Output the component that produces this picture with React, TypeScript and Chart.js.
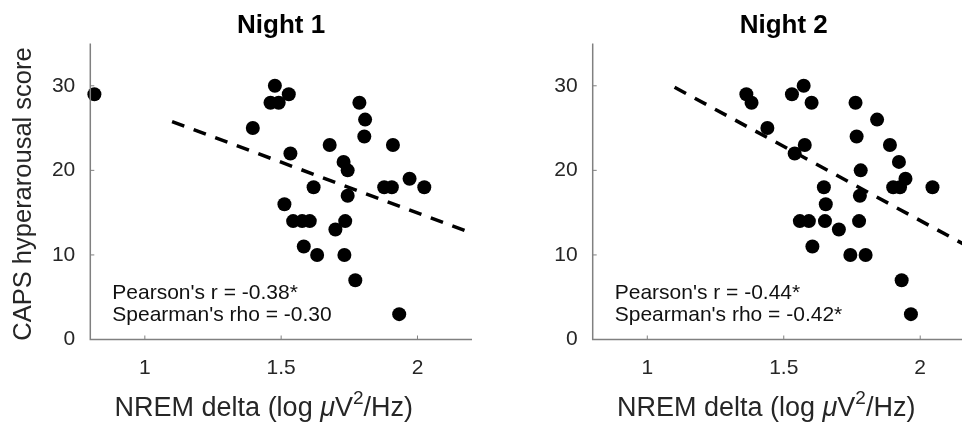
import React, { useEffect, useRef } from "react";
import { Chart, registerables } from "chart.js";

Chart.register(...registerables);

// ---------- data ----------
const panelTitles = ["Night 1", "Night 2"];
const yAxisTitle = "CAPS hyperarousal score";
const xAxisTitleParts = ["NREM delta (log ", "\u03bc", "V", "2", "/Hz)"];
const xTickValues = [1, 1.5, 2];
const yTickValues = [0, 10, 20, 30];

const night1X = [0.815, 1.477, 1.528, 1.461, 1.491, 1.396, 1.534, 1.678, 1.787, 1.808, 1.805, 1.91, 1.729, 1.744, 1.619, 1.744, 1.878, 1.906, 1.971, 2.025, 1.512, 1.544, 1.577, 1.605, 1.735, 1.699, 1.583, 1.632, 1.732, 1.772, 1.933];
const night1Y = [29, 30, 29, 28, 28, 25, 22, 23, 28, 26, 24, 23, 21, 20, 18, 17, 18, 18, 19, 18, 16, 14, 14, 14, 14, 13, 11, 10, 10, 7, 3];

const night2X = [1.363, 1.382, 1.573, 1.53, 1.602, 1.44, 1.577, 1.54, 1.763, 1.842, 1.767, 1.889, 1.922, 1.782, 1.946, 1.901, 1.926, 2.045, 1.647, 1.779, 1.654, 1.559, 1.592, 1.651, 1.776, 1.702, 1.605, 1.744, 1.8, 1.932, 1.966];
const night2Y = [29, 28, 30, 29, 28, 25, 23, 22, 28, 26, 24, 23, 21, 20, 19, 18, 18, 18, 18, 17, 16, 14, 14, 14, 14, 13, 11, 10, 10, 7, 3];

const fitX = [1.1, 2.2];
const night1FitY = [25.76, 12.57];
const night2FitY = [29.83, 10.56];

const night1Stats = ["Pearson's r = -0.38*", "Spearman's rho = -0.30"];
const night2Stats = ["Pearson's r = -0.44*", "Spearman's rho = -0.42*"];

const xRange = [0.8, 2.2];
const yRange = [0, 35];

// ---------- styling ----------
const FAM = '"Liberation Sans", Arial, Helvetica, sans-serif';
const CANVAS_W = 500;
const CANVAS_H = 422;
const PLOT_TOP = 43.5;
const PLOT_BOTTOM = 339.5;
const AXIS_COLOR = "#808080";
const TEXT_COLOR = "#262626";

type PanelProps = {
  offset: number;
  plotLeft: number; // in canvas coords
  plotRight: number;
  xs: number[];
  ys: number[];
  fitY: number[];
  title: string;
  stats: string[];
  showYTitle: boolean;
};

function makeDecor(p: PanelProps) {
  return {
    id: "decor",
    afterDraw(chart: any) {
      const ctx = chart.ctx as CanvasRenderingContext2D;
      const { left, right, top, bottom } = chart.chartArea;
      const xs = chart.scales.x;
      const ys = chart.scales.y;
      ctx.save();
      // axes
      ctx.strokeStyle = AXIS_COLOR;
      ctx.lineWidth = 1.5;
      ctx.beginPath();
      ctx.moveTo(left, top);
      ctx.lineTo(left, bottom);
      ctx.lineTo(right, bottom);
      ctx.stroke();
      ctx.lineWidth = 1;
      ctx.beginPath();
      xTickValues.forEach((v) => {
        const px = xs.getPixelForValue(v);
        ctx.moveTo(px, bottom);
        ctx.lineTo(px, bottom - 4);
      });
      yTickValues.forEach((v) => {
        const py = ys.getPixelForValue(v);
        ctx.moveTo(left, py);
        ctx.lineTo(left + 4, py);
      });
      ctx.stroke();

      // title
      ctx.fillStyle = "#000";
      ctx.font = `bold 26px ${FAM}`;
      ctx.textAlign = "center";
      ctx.textBaseline = "alphabetic";
      ctx.fillText(p.title, (left + right) / 2, 33);

      // stats
      ctx.fillStyle = "#111";
      ctx.font = `21px ${FAM}`;
      ctx.textAlign = "left";
      ctx.fillText(p.stats[0], left + 22, 298.5);
      ctx.fillText(p.stats[1], left + 22, 321);

      // y title
      if (p.showYTitle) {
        ctx.save();
        ctx.fillStyle = TEXT_COLOR;
        ctx.font = `25.5px ${FAM}`;
        ctx.translate(24, (top + bottom) / 2 + 2.5);
        ctx.rotate(-Math.PI / 2);
        ctx.textAlign = "center";
        ctx.textBaseline = "middle";
        ctx.fillText(yAxisTitle, 0, 0);
        ctx.restore();
      }

      // x title with italic mu and superscript
      const size = 27;
      const segs = [
        { t: xAxisTitleParts[0], f: `${size}px ${FAM}`, dy: 0 },
        { t: xAxisTitleParts[1], f: `italic ${size}px ${FAM}`, dy: 0 },
        { t: xAxisTitleParts[2], f: `${size}px ${FAM}`, dy: 0 },
        { t: xAxisTitleParts[3], f: `${Math.round(size * 0.72)}px ${FAM}`, dy: -size * 0.45 },
        { t: xAxisTitleParts[4], f: `${size}px ${FAM}`, dy: 0 },
      ];
      let total = 0;
      const widths = segs.map((s) => {
        ctx.font = s.f;
        const w = ctx.measureText(s.t).width;
        total += w;
        return w;
      });
      let x = left + 173.5 - total / 2;
      ctx.fillStyle = TEXT_COLOR;
      ctx.textAlign = "left";
      ctx.textBaseline = "alphabetic";
      segs.forEach((s, i) => {
        ctx.font = s.f;
        ctx.fillText(s.t, x, 416 + s.dy);
        x += widths[i];
      });
      ctx.restore();
    },
  };
}

function Panel(p: PanelProps) {
  const ref = useRef<HTMLCanvasElement>(null);
  useEffect(() => {
    const canvas = ref.current!;
    const chart = new Chart(canvas, {
      type: "scatter",
      data: {
        datasets: [
          {
            type: "line",
            data: fitX.map((x, i) => ({ x, y: p.fitY[i] })),
            borderColor: "#000",
            borderWidth: 3.5,
            borderDash: [13, 10],
            pointRadius: 0,
            fill: false,
            showLine: true,
            clip: false,
          } as any,
          {
            type: "scatter",
            data: p.xs.map((x, i) => ({ x, y: p.ys[i] })),
            backgroundColor: "#000",
            borderColor: "#000",
            borderWidth: 0,
            pointRadius: 7,
            clip: false,
          } as any,
        ],
      },
      plugins: [makeDecor(p)],
      options: {
        animation: false,
        responsive: false,
        devicePixelRatio: 1,
        layout: {
          padding: { left: 0, top: PLOT_TOP, right: CANVAS_W - p.plotRight, bottom: 0 },
        },
        plugins: {
          legend: { display: false },
          tooltip: { enabled: false },
          title: { display: false },
        },
        scales: {
          x: {
            type: "linear",
            min: xRange[0],
            max: xRange[1],
            grid: { display: false, drawTicks: false },
            border: { display: false },
            afterBuildTicks: (s: any) => {
              s.ticks = xTickValues.map((v) => ({ value: v }));
            },
            ticks: {
              font: { size: 21, family: FAM },
              color: TEXT_COLOR,
              padding: 16,
              maxRotation: 0,
              autoSkip: false,
              callback: (v: any) => String(v),
            },
            afterFit: (s: any) => {
              s.height = CANVAS_H - PLOT_BOTTOM;
              s.paddingLeft = 0;
              s.paddingRight = 0;
            },
          },
          y: {
            type: "linear",
            min: yRange[0],
            max: yRange[1],
            grid: { display: false, drawTicks: false },
            border: { display: false },
            afterBuildTicks: (s: any) => {
              s.ticks = yTickValues.map((v) => ({ value: v }));
            },
            ticks: {
              font: { size: 21, family: FAM },
              color: TEXT_COLOR,
              padding: 15,
              callback: (v: any) => String(v),
            },
            afterFit: (s: any) => {
              s.width = p.plotLeft;
              s.paddingTop = 0;
              s.paddingBottom = 0;
            },
          },
        },
      } as any,
    });
    return () => chart.destroy();
  }, []);
  return (
    <canvas
      ref={ref}
      width={CANVAS_W}
      height={CANVAS_H}
      style={{ position: "absolute", left: p.offset, top: 0, width: CANVAS_W, height: CANVAS_H }}
    />
  );
}

export default function App() {
  return (
    <div
      style={{
        position: "fixed",
        left: 0,
        top: 0,
        width: 962,
        height: 422,
        overflow: "hidden",
        background: "#fff",
      }}
    >
      <Panel
        offset={0}
        plotLeft={90.3}
        plotRight={472}
        xs={night1X}
        ys={night1Y}
        fitY={night1FitY}
        title={panelTitles[0]}
        stats={night1Stats}
        showYTitle={true}
      />
      <Panel
        offset={500}
        plotLeft={92.7}
        plotRight={474.8}
        xs={night2X}
        ys={night2Y}
        fitY={night2FitY}
        title={panelTitles[1]}
        stats={night2Stats}
        showYTitle={false}
      />
    </div>
  );
}
